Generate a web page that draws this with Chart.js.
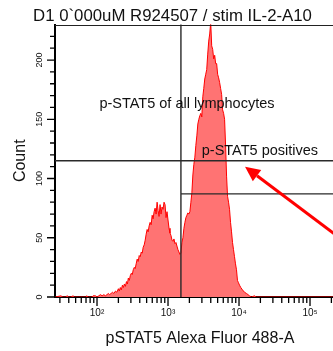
<!DOCTYPE html>
<html>
<head>
<meta charset="utf-8">
<script src="https://cdn.jsdelivr.net/npm/chart.js@4/dist/chart.umd.min.js"></script>
<style>
  html, body { margin: 0; padding: 0; background: #fff; overflow: hidden; }
  #wrap { width: 333px; height: 351px; overflow: hidden; position: relative; }
  canvas { display: block; }
</style>
</head>
<body>
<div id="wrap"><canvas id="hist" width="345" height="351"></canvas></div>
<script>
// Histogram channels (fluorescence intensity) and event counts
const binValues = [26,31,33,36,38,40,43,46,48,55,59,62,69,72,75,81,85,88,95,100,106,112,118,125,131,138,145,150,158,165,173,182,190,200,206,213,220,228,235,243,251,260,268,276,285,294,304,314,324,335,345,356,368,380,393,406,420,433,447,462,477,492,508,525,542,560,579,598,617,637,658,680,702,725,748,773,798,824,851,879,908,938,968,1000,1033,1066,1101,1137,1175,1213,1253,1294,1336,1380,1425,1472,1520,1570,1622,1675,1730,1786,1845,1905,1968,2032,2099,2168,2239,2312,2388,2466,2547,2630,2716,2805,2897,2992,3090,3188,3292,3399,3510,3625,3744,3866,3992,4123,4258,4397,4541,4689,4842,5000,5164,5333,5507,5687,5873,6065,6263,6468,6679,6897,7123,7356,7596,7844,8101,8365,8639,8921,9213,9514,9825,10160,10600,11200,11950,12740,13400,14030,15000,16480,17500,262144];
const binCounts = [0,1,0,0,1,0,0,1,0,0,0,0,0,1,0,0,0,1,1,0,1,2,1,2,1,2,3,2,3,4,3,5,4,7,5,8,6,10,8,11,9,13,11,16,14,18,20,19,23,25,24,28,32,30,35,34,38,37,42,44,48,53,57,55,60,63,61,69,66,72,75,70,80,73,68,78,70,76,74,80,78,67,72,65,58,54,52,48,47,49,45,46,43,40,38,36,37,46,50,58,63,67,69,71,70,72,80,88,103,112,118,128,136,146,150,153,155,152,169,176,184,188,192,205,216,222,232,212,209,201,204,197,197,188,185,181,176,171,158,155,150,128,102,85,80,74,63,55,46,40,34,28,23,14,12,10,8,6,4,3,2,1,0,1,0,0];

// Axis ticks and labels
const xTickValues = [30,40,50,60,70,80,90,100,200,300,400,500,600,700,800,900,1000,2000,3000,4000,5000,6000,7000,8000,9000,10000,20000,30000,40000,50000,60000,70000,80000,90000,100000,200000];
const xDecades = [100, 1000, 10000, 100000];
const xDecadeLabels = ['10\u00B2', '10\u00B3', '10\u2074', '10\u2075'];
const yTickValues = [0,10,20,30,40,50,60,70,80,90,100,110,120,130,140,150,160,170,180,190,200,210,220];
const yLabelEvery = 50;

// Gates: threshold on pSTAT5 and the two count levels of the gate bars
const gatePositive = 1520;
const gateAllLevel = 115;
const gatePosLevel = 87;
const gateTexts = ['p-STAT5 of all lymphocytes', 'p-STAT5 positives'];
const gateTextAnchors = [[108, 163], [2985, 123]];
// Pointer arrow (tail -> tip) in axis units
const arrowTail = [320000, 46];
const arrowTip = [12160, 110];

const FONT = '"Liberation Sans", Arial, sans-serif';

const overlay = {
  id: 'overlay',
  afterDatasetsDraw(chart) {
    const {ctx, chartArea: ca} = chart;
    const xs = chart.scales.x, ys = chart.scales.y;
    ctx.save();
    // frame top line
    ctx.strokeStyle = '#222';
    ctx.lineWidth = 1;
    ctx.beginPath();
    ctx.moveTo(ca.left, Math.round(ca.top) + 0.5);
    ctx.lineTo(ca.right, Math.round(ca.top) + 0.5);
    ctx.stroke();

    // gate lines
    ctx.strokeStyle = '#2a2a2a';
    ctx.lineWidth = 1.4;
    const gx = xs.getPixelForValue(gatePositive);
    const gy1 = ys.getPixelForValue(gateAllLevel);
    const gy2 = ys.getPixelForValue(gatePosLevel);
    ctx.beginPath();
    ctx.moveTo(gx, ca.top); ctx.lineTo(gx, ca.bottom);
    ctx.moveTo(ca.left, gy1); ctx.lineTo(ca.right, gy1);
    ctx.moveTo(gx, gy2); ctx.lineTo(ca.right, gy2);
    ctx.stroke();

    // gate names
    ctx.fillStyle = '#111';
    ctx.font = '14.5px ' + FONT;
    ctx.textAlign = 'left';
    ctx.textBaseline = 'middle';
    gateTexts.forEach((t, i) => {
      const [vx, vy] = gateTextAnchors[i];
      ctx.fillText(t, xs.getPixelForValue(vx), ys.getPixelForValue(vy));
    });

    // pointer arrow
    const tx = xs.getPixelForValue(arrowTip[0]), ty = ys.getPixelForValue(arrowTip[1]);
    const sx = xs.getPixelForValue(arrowTail[0]), sy = ys.getPixelForValue(arrowTail[1]);
    const ang = Math.atan2(ty - sy, tx - sx);
    const headLen = 15, headHalf = 7;
    const bx = tx - headLen * Math.cos(ang), by = ty - headLen * Math.sin(ang);
    ctx.strokeStyle = '#ff0000';
    ctx.fillStyle = '#ff0000';
    ctx.lineWidth = 3;
    ctx.beginPath();
    ctx.moveTo(sx, sy); ctx.lineTo(bx, by);
    ctx.stroke();
    ctx.beginPath();
    ctx.moveTo(tx, ty);
    ctx.lineTo(bx + headHalf * Math.sin(ang), by - headHalf * Math.cos(ang));
    ctx.lineTo(bx - headHalf * Math.sin(ang), by + headHalf * Math.cos(ang));
    ctx.closePath();
    ctx.fill();
    ctx.restore();
  },
  afterDraw(chart) {
    const {ctx, chartArea: ca} = chart;
    const xs = chart.scales.x, ys = chart.scales.y;
    ctx.save();
    ctx.strokeStyle = '#000';
    ctx.lineWidth = 1.3;
    ctx.beginPath();
    ys.ticks.forEach(t => {
      const py = ys.getPixelForValue(t.value);
      const len = t.value % yLabelEvery === 0 ? 8 : 5;
      ctx.moveTo(ca.left - len, py); ctx.lineTo(ca.left, py);
    });
    xs.ticks.forEach(t => {
      const px = xs.getPixelForValue(t.value);
      const len = xDecades.includes(t.value) ? 9 : 6;
      ctx.moveTo(px, ca.bottom); ctx.lineTo(px, ca.bottom + len);
    });
    ctx.stroke();
    ctx.restore();
  }
};

new Chart(document.getElementById('hist'), {
  type: 'line',
  data: {
    datasets: [{
      data: binValues.map((v, i) => ({x: v, y: binCounts[i]})),
      borderColor: '#ff0000',
      borderWidth: 1,
      backgroundColor: '#ff7373',
      fill: 'origin',
      pointRadius: 0,
      tension: 0
    }]
  },
  options: {
    responsive: false,
    animation: false,
    devicePixelRatio: 1,
    layout: { padding: { top: 0, right: 0, bottom: 0, left: 0 } },
    plugins: {
      legend: { display: false },
      tooltip: { enabled: false },
      title: {
        display: true,
        text: 'D1 0`000uM R924507 / stim IL-2-A10',
        color: '#111',
        font: { family: FONT, size: 16.8, weight: 'normal', lineHeight: 1 },
        padding: { top: 7.7, bottom: 0 }
      }
    },
    scales: {
      x: {
        type: 'logarithmic',
        min: 25.6,
        max: 311000,
        afterFit: s => { s.height = 54; },
        afterBuildTicks: s => { s.ticks = xTickValues.map(v => ({value: v})); },
        grid: { display: false, drawTicks: false },
        border: { display: true, color: '#000', width: 2 },
        ticks: {
          autoSkip: false, maxRotation: 0, minRotation: 0, padding: 10,
          color: '#111',
          font: { family: FONT, size: 10 },
          callback: v => { const k = xDecades.indexOf(v); return k >= 0 ? xDecadeLabels[k] : ''; }
        },
        title: {
          display: true, text: 'pSTAT5 Alexa Fluor 488-A', color: '#111',
          font: { family: FONT, size: 16 },
          padding: { top: 0, bottom: 2.4 }
        }
      },
      y: {
        type: 'linear',
        min: 0,
        max: 230,
        afterFit: s => { s.width = 55; },
        afterBuildTicks: s => { s.ticks = yTickValues.map(v => ({value: v})); },
        grid: { display: false, drawTicks: false },
        border: { display: true, color: '#000', width: 2 },
        ticks: {
          autoSkip: false, minRotation: 90, maxRotation: 90, crossAlign: 'center', padding: 7.5,
          color: '#111',
          font: { family: FONT, size: 9 },
          callback: v => (v % yLabelEvery === 0 ? String(v) : '')
        },
        title: {
          display: true, text: 'Count', color: '#111',
          font: { family: FONT, size: 16 },
          padding: { top: 11.4, bottom: 0 }
        }
      }
    }
  },
  plugins: [overlay]
});
</script>
</body>
</html>
